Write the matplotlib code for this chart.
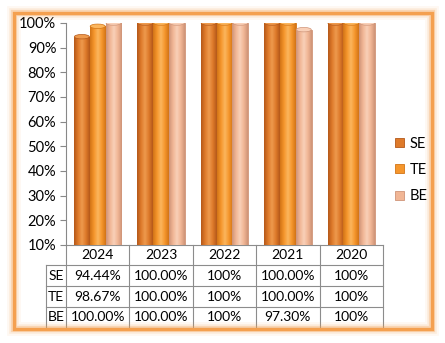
import numpy as np
import matplotlib.pyplot as plt
from matplotlib.colors import LinearSegmentedColormap
from matplotlib.patches import Patch, Ellipse, FancyBboxPatch
from matplotlib.lines import Line2D

years = ["2024", "2023", "2022", "2021", "2020"]
series = ["SE", "TE", "BE"]
se = [94.44, 100.00, 100.0, 100.00, 100.0]
te = [98.67, 100.00, 100.0, 100.00, 100.0]
be = [100.00, 100.00, 100.0, 97.30, 100.0]
se_lbl = ["94.44%", "100.00%", "100%", "100.00%", "100%"]
te_lbl = ["98.67%", "100.00%", "100%", "100.00%", "100%"]
be_lbl = ["100.00%", "100.00%", "100%", "97.30%", "100%"]

values = [se, te, be]
labels = [se_lbl, te_lbl, be_lbl]
# dark, base, light shades for cylinder look
shades = [("#B4581A", "#DE7A2A", "#EE9A4E"),
          ("#D27416", "#F5962C", "#FBB65E"),
          ("#CF9478", "#F1B695", "#F9D0B8")]

plt.rcParams['font.family'] = ['Lato', 'DejaVu Sans']
fs = 10.5
tfs = 10
fig = plt.figure(figsize=(4.45, 3.43), dpi=100)
fig.patch.set_facecolor("white")

# orange glowing frame
for lw, a in [(10, 0.07), (7, 0.12), (4.5, 0.3), (2.4, 1.0)]:
    fig.patches.append(FancyBboxPatch((14/445, 14/343), 418/445, 316/343,
                                      boxstyle="square,pad=0", transform=fig.transFigure,
                                      fill=False, ec="#F4A050", lw=lw, alpha=a, zorder=0))

ax = fig.add_axes([66/445, 98/343, 317/445, 222/343])
ax.set_xlim(-0.5, 4.5)
ax.set_ylim(0.1, 1.0)
ax.patch.set_alpha(0)

x = np.arange(len(years))
w = 0.25
ymin = 0.1
for i, (vals, (dk, bs, lt)) in enumerate(zip(values, shades)):
    cmap = LinearSegmentedColormap.from_list("c%d" % i, [dk, bs, lt, bs, dk])
    grad = np.linspace(0, 1, 64).reshape(1, -1)
    pos = x + (i - 1) * w
    bars = ax.bar(pos, [v / 100 for v in vals], w, color=bs, edgecolor=dk, lw=0.6, zorder=2)
    for b in bars:
        bx, bw, bh = b.get_x(), b.get_width(), b.get_height()
        im = ax.imshow(grad, cmap=cmap, aspect="auto", extent=(bx, bx + bw, ymin, bh),
                       zorder=2.5)
        im.set_clip_path(b)
        ax.add_patch(Ellipse((bx + bw / 2, bh), bw * 0.95, 0.018, fc=lt, ec=dk, lw=0.5, zorder=3))

ax.set_yticks(np.arange(0.1, 1.01, 0.1))
ax.set_yticklabels(["%d%%" % round(t * 100) for t in np.arange(0.1, 1.01, 0.1)], fontsize=fs)
ax.tick_params(axis="y", length=4, color="#888888", pad=3)
ax.tick_params(axis="x", bottom=False, labelbottom=False)
for s in ["top", "right", "bottom"]:
    ax.spines[s].set_visible(False)
ax.spines["left"].set_color("#888888")

# data table below the plot
tr = ax.get_xaxis_transform()
gc = "#8C8C8C"
rows_y = [0, -0.09, -0.185, -0.279, -0.372]
left = -0.815
for yy in rows_y:
    x0 = -0.5 if yy == 0 else left
    ax.add_line(Line2D([x0, 4.5], [yy, yy], transform=tr, color=gc, lw=0.8, clip_on=False))
for xx in np.arange(-0.5, 5.0, 1.0):
    ax.add_line(Line2D([xx, xx], [0, rows_y[-1]], transform=tr, color=gc, lw=0.8, clip_on=False))
ax.add_line(Line2D([left, left], [rows_y[1], rows_y[-1]], transform=tr, color=gc, lw=0.8, clip_on=False))
for j, yr in enumerate(years):
    ax.text(j, (rows_y[0] + rows_y[1]) / 2, yr, transform=tr, ha="center", va="center", fontsize=tfs)
for r, (name, lbls) in enumerate(zip(series, labels)):
    yc = (rows_y[r + 1] + rows_y[r + 2]) / 2
    ax.text((left - 0.5) / 2, yc, name, transform=tr, ha="center", va="center", fontsize=tfs)
    for j, t in enumerate(lbls):
        ax.text(j, yc, t, transform=tr, ha="center", va="center", fontsize=tfs)

handles = [Patch(fc=s[1], ec=s[0], lw=0.6) for s in shades]
fig.legend(handles, series, loc="center left", bbox_to_anchor=(382/445, 1 - 170/343),
           frameon=False, fontsize=fs, handlelength=0.6, handleheight=0.6,
           labelspacing=0.85, handletextpad=0.4)

fig.savefig("out.png", dpi=100)
